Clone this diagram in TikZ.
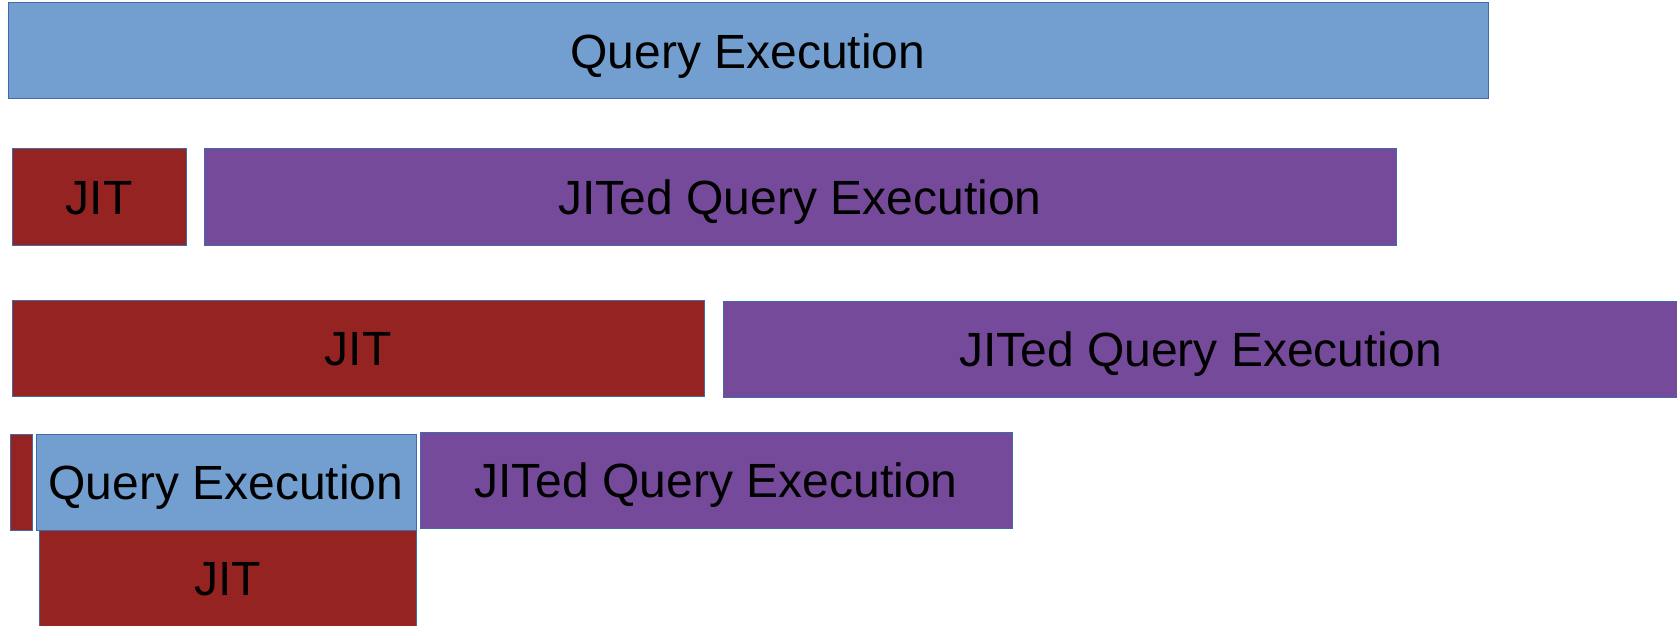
\documentclass[tikz,border=0pt]{standalone}
\usepackage{fontspec}
\setmainfont{Liberation Sans}
\definecolor{qblue}{HTML}{729FCF}
\definecolor{jred}{HTML}{942321}
\definecolor{jpurple}{HTML}{754A9A}
\definecolor{edge}{HTML}{3F6AAB}
\tikzset{
  bar/.style={draw=edge, line width=0.5pt, inner sep=0pt, rectangle,
    font=\fontsize{24}{28}\selectfont, text=black,
    text height=17.2pt, text depth=0pt, minimum height=48pt},
  qbar/.style={bar, fill=qblue},
  jbar/.style={bar, fill=jred},
  pbar/.style={bar, fill=jpurple}
}
\begin{document}
\begin{tikzpicture}[x=0.5pt, y=-0.5pt]
\useasboundingbox (0,0) rectangle (1677,626);
\clip (0,0) rectangle (1677,626);
% row 1
\node[qbar, minimum width=740pt] (q1) at (748,51) {Query Execution};
% row 2
\node[jbar, minimum width=87pt] (jit1) at (99,197) {JIT};
\node[pbar, minimum width=596pt] (jq1) at (800,197) {JITed Query Execution};
% row 3
\node[jbar, minimum width=346pt] (jit2) at (358,348) {JIT};
\node[pbar, minimum width=477.5pt] (jq2) at (1200.5,349) {JITed Query Execution};
% row 4
\node[jbar, minimum width=11pt] (jit3) at (21,482) {};
\node[jbar, minimum width=188.5pt, minimum height=49.5pt] (jit4) at (227.5,578.5) {JIT};
\node[qbar, minimum width=190pt] (q2) at (226,482) {Query Execution};
\node[pbar, minimum width=296pt] (jq3) at (716,480) {JITed Query Execution};
\end{tikzpicture}
\end{document}
